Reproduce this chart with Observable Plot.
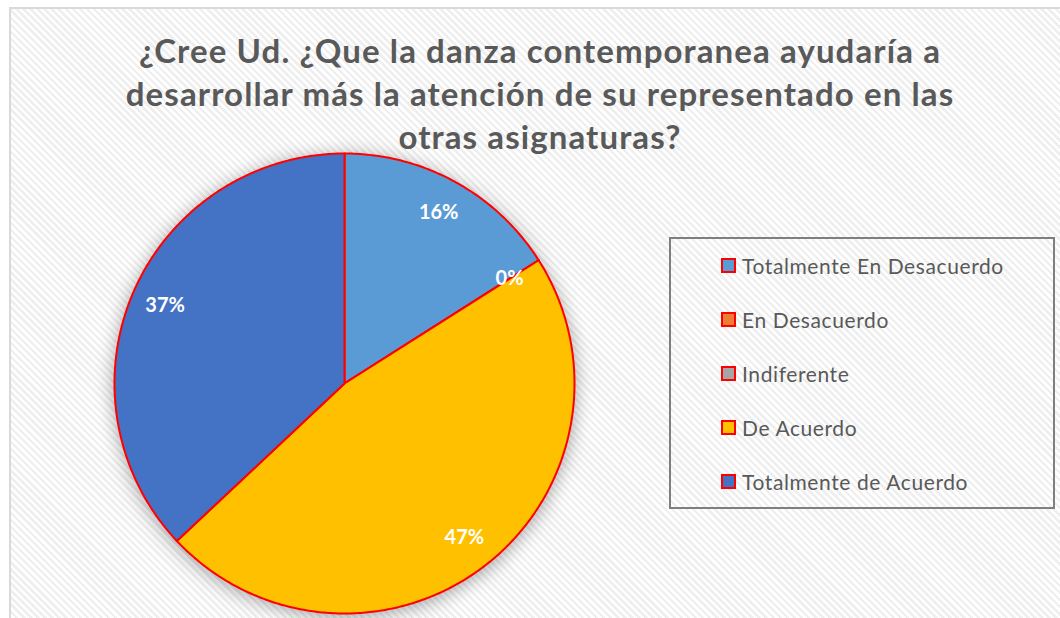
<!DOCTYPE html>
<html><head><meta charset="utf-8">
<script src="https://cdn.jsdelivr.net/npm/d3@7"></script>
<script src="https://cdn.jsdelivr.net/npm/@observablehq/plot@0.6"></script>
<style>
html,body{margin:0;padding:0;background:#fff;}
#wrap{position:relative;width:1060px;height:618px;overflow:hidden;background:#fff;font-family:Lato,"Open Sans",sans-serif;}
#frame{position:absolute;left:9px;top:7px;width:1100px;height:700px;border-left:2px solid #d9d9d9;border-top:2px solid #d9d9d9;
background:repeating-linear-gradient(45deg,#ffffff 0px,#ffffff 2.5px,#efefef 2.5px,#efefef 5px);}
#title{position:absolute;left:0;width:1080px;top:29px;text-align:center;font-weight:700;font-size:33px;letter-spacing:1.1px;line-height:43px;color:#595959;}
#chart{position:absolute;left:0;top:0;}
#legend{position:absolute;left:669px;top:237px;width:386px;height:272px;border:2px solid #7f7f7f;box-sizing:border-box;}
.item{position:absolute;left:50px;font-size:21px;letter-spacing:0.6px;color:#595959;display:flex;align-items:center;white-space:nowrap;}
.sw{width:11px;height:11px;border:2px solid #ff0000;margin-right:6px;}
</style></head>
<body>
<div id="wrap">
  <div id="frame"></div>
  <div id="chart"></div>
  <div id="title">¿Cree Ud. ¿Que la danza contemporanea ayudaría a<br>desarrollar más la atención de su representado en las<br>otras asignaturas?</div>
  <div id="legend"></div>
</div>
<script>
const categories = ["Totalmente En Desacuerdo","En Desacuerdo","Indiferente","De Acuerdo","Totalmente de Acuerdo"];
const values = [16, 0, 0, 47, 37];
const labels = ["16%","0%","0%","47%","37%"];
const colors = ["#5b9bd5","#ed7d31","#a5a5a5","#ffc000","#4472c4"];

const W = 1060, H = 618, cx = 344, cy = 383, R = 230;
const pie = d3.pie().sort(null).value(d => d.value).startAngle(0).endAngle(2*Math.PI);
const arcs = pie(categories.map((c,i)=>({category:c, value:values[i], label:labels[i]})));

const pts = [];
arcs.forEach(a => {
  const c = a.data.category;
  pts.push({category:c, x:0, y:0});
  const n = Math.max(1, Math.ceil((a.endAngle - a.startAngle) / 0.01));
  for (let k = 0; k <= n; k++) {
    const t = a.startAngle + (a.endAngle - a.startAngle) * k / n;
    pts.push({category:c, x:Math.sin(t), y:Math.cos(t)});
  }
  pts.push({category:c, x:0, y:0});
});
const labs = arcs.filter(a => a.data.category !== "Indiferente").map(a => {
  const m = (a.startAngle + a.endAngle)/2;
  return {label:a.data.label, x:0.85*Math.sin(m), y:0.85*Math.cos(m)};
});

const chart = Plot.plot({
  width: W, height: H,
  margin: 0,
  x: {domain: [-cx/R, (W-cx)/R], axis: null},
  y: {domain: [-(H-cy)/R, cy/R], axis: null},
  color: {domain: categories, range: colors},
  style: {background: "transparent"},
  marks: [
    Plot.line(pts, {x:"x", y:"y", z:"category", fill:"category", stroke:"#ff0000", strokeWidth:2, strokeLinejoin:"round"}),
    Plot.text(labs, {x:"x", y:"y", text:"label", fill:"white", fontSize:20, fontWeight:"bold", fontFamily:"Lato, 'Open Sans', sans-serif"})
  ]
});
const lineG = chart.querySelector('g[aria-label="line"]');
if (lineG) lineG.style.filter = "drop-shadow(0px 3px 9px rgba(0,0,0,0.35))";
document.getElementById("chart").appendChild(chart);

const leg = document.getElementById("legend");
categories.forEach((c,i) => {
  const d = document.createElement("div");
  d.className = "item";
  d.style.top = (14 + i*54) + "px";
  const s = document.createElement("span");
  s.className = "sw"; s.style.background = colors[i];
  d.appendChild(s);
  d.appendChild(document.createTextNode(c));
  leg.appendChild(d);
});
</script>
</body></html>
